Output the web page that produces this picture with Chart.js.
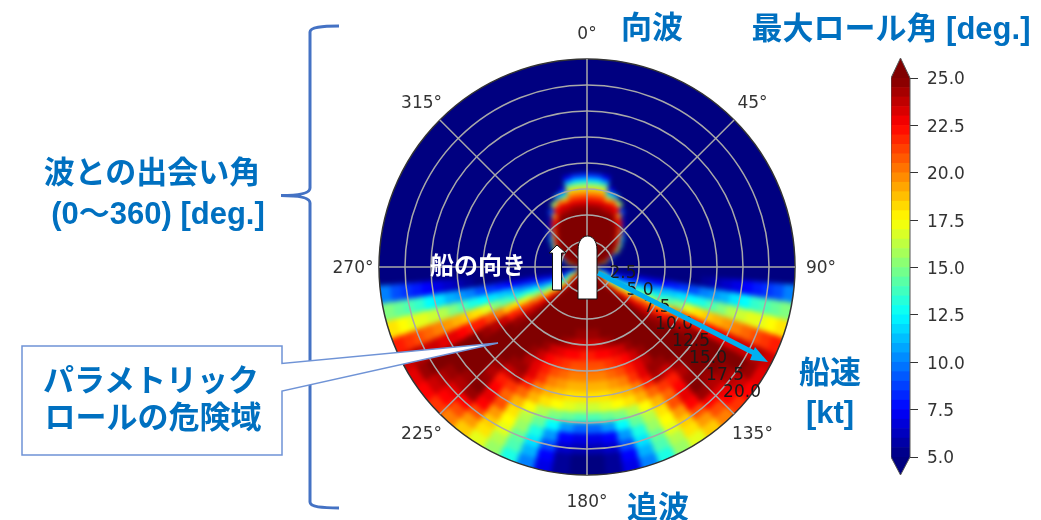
<!DOCTYPE html>
<html lang="ja">
<head>
<meta charset="UTF-8">
<title>最大ロール角</title>
<script src="https://cdn.jsdelivr.net/npm/chart.js"></script>
<style>
  html, body { margin: 0; padding: 0; background: #fff; width: 1041px; height: 520px; overflow: hidden; }
  .polarBox { position: absolute; left: 327px; top: 7px; width: 520px; height: 520px; }
  #heatBox { clip-path: circle(208px at 260px 260px); }
  #heat { filter: blur(2.5px); }
  #barBox { position: absolute; left: 891px; top: 0; width: 150px; height: 520px; }
  svg { position: absolute; left: 0; top: 0; }
  svg text { font-family: "Liberation Sans", "Noto Sans CJK JP", sans-serif; font-weight: bold; fill: #0070C0; font-size: 31px; text-anchor: middle; }
</style>
</head>
<body>
<div class="polarBox" id="heatBox"><canvas id="heat"></canvas></div>
<div class="polarBox"><canvas id="polar"></canvas></div>
<div id="barBox"><canvas id="bar"></canvas></div>
<svg width="1041" height="520" viewBox="0 0 1041 520">
  <!-- brace -->
  <path d="M339,26 C322,26 310,27 310,32 V188 C310,194 295,195.5 281,195.5 C295,195.5 310,197 310,203 V502 C310,507 322,508 339,508" fill="none" stroke="#4472C4" stroke-width="3"/>
  <!-- callout -->
  <path d="M22,346 H282 V363.5 L498,343 L282,391 V455 H22 Z" fill="#fff" stroke="#6F93D6" stroke-width="1.5"/>
  <!-- ship and heading arrow -->
  <path d="M578,299 V250 C578,240 583,236 587.5,236 C592,236 597,240 597,250 V299 Z" fill="#fff" stroke="#111" stroke-width="1"/>
  <path d="M552.5,290 V253 H549 L557,245 L566,253 H561.5 V290 Z" fill="#fff" stroke="#111" stroke-width="1"/>
  <!-- speed arrow -->
  <path d="M598,273 L756,354" stroke="#00B0F0" stroke-width="5" fill="none"/>
  <path d="M768,362 L755,347 L750,360 Z" fill="#00B0F0"/>

  <text x="652" y="38">向波</text>
  <text x="891" y="39">最大ロール角 [deg.]</text>
  <text x="658" y="518">追波</text>
  <text x="830" y="383">船速</text>
  <text x="830" y="423">[kt]</text>
  <text x="152" y="183">波との出会い角</text>
  <text x="158" y="224">(0〜360) [deg.]</text>
  <text x="151" y="391">パラメトリック</text>
  <text x="153" y="428">ロールの危険域</text>
  <text x="478" y="274" style="fill:#fff;font-size:24px">船の向き</text>
</svg>
<script>
// 5 deg sectors from the bow to the stern, rows run from the ship outwards,
// finer rows where the bow blob changes quickly
const speedEdges = [1, 2, 2.5, 3, 3.5, 4, 4.5, 5, 5.5, 6, 6.5, 7, 7.5, 8, 8.5, 9, 10, 11, 12, 13, 14, 15, 16, 17, 18, 19, 20];
const rollHalf = [
  [25,25,25,25,25,25,25,25,25,25,25,25,25,25,25,25,25,22, 8,13,18,21,24,25,25,25,25,25,25,25,25,25,25,25,25,25],
  [25,25,25,25,25,25,25,25,25,25,25,25,25,25,25,18,5,5, 5,6,8,11,14,17,20,22,24,25,25,25,25,25,25,25,25,25],
  [25,25,25,25,25,25,25,25,25,25,25,25,25,23,11,5,5,5, 5,5,6,8,11,13,15,19,22.5,25,25,25,25,25,25,25,25,25],
  [25,25,25,25,25,25,25,25,25,25,25,25,24,10,5,5,5,5, 5,5,6,8,11,13,15,19,22.5,25,25,25,25,25,25,25,25,25],
  [25,25,25,25,25,25,25,25,25,25,25,23.5,16,5,5,5,5,5, 5,5,6,8,10.5,13,16.5,20.5,24,25,25,25,25,25,25,25,25,25],
  [25,25,25,25,25,25,25,25,25,24,22,14,5,5,5,5,5,5, 5,5,6,8,10.5,13,16.5,20.5,24,25,25,25,25,25,25,25,25,25],
  [25,25,25,25,25,25,25,25,24,20,11,5,5,5,5,5,5,5, 5,5,6.5,8.5,11,14,18,22,24.5,25,25,25,25,25,25,25,25,25],
  [25,25,25,25,25,25,25,24,20.5,9,5,5,5,5,5,5,5,5, 5,5,6.5,8.5,11,14,18,22,24.5,25,25,25,25,25,25,25,25,25],
  [25,25,25,25,25,25,23,22,6,5,5,5,5,5,5,5,5,5, 5,5,7,9.5,12.5,15.5,20,23,25,25,25,25,25,25,25,25,25,25],
  [24.5,24.5,24.5,24,24,23.5,19.5,6,5,5,5,5,5,5,5,5,5,5, 5,5,7,9.5,12.5,15.5,20,23,25,25,25,25,25,25,25,25,25,25],
  [23,23,23,23,23,22.5,9,5,5,5,5,5,5,5,5,5,5,5, 5,5,7,10,13,17,21,23.5,25,25,25,25,25,25,25,25,24.5,24.5],
  [21,21,21,19,20,15.5,5,5,5,5,5,5,5,5,5,5,5,5, 5,5,7,10,13,17,21,23.5,25,25,25,25,25,25,25,25,24.5,24.5],
  [19,19,19,12,11,5,5,5,5,5,5,5,5,5,5,5,5,5, 5,5,7.5,11,13,18,21.5,24,25,25,25,25,25,25,24.5,24,23.5,23.5],
  [16,16,16,7,5,5,5,5,5,5,5,5,5,5,5,5,5,5, 5,5,7.5,11,13,18,21.5,24,25,25,25,25,25,25,24.5,24,23.5,23.5],
  [12,12,11,5,5,5,5,5,5,5,5,5,5,5,5,5,5,5, 5,5,8,11.5,14,18.5,22,24.5,25,25,25,25,24.5,23.5,23,22.5,22.5,22],
  [8.5,8.5,7,5,5,5,5,5,5,5,5,5,5,5,5,5,5,5, 5,5,8,11.5,14,18.5,22,24.5,25,25,25,25,24.5,23.5,23,22.5,22.5,22],
  [5,5,5,5,5,5,5,5,5,5,5,5,5,5,5,5,5,5, 5,5,8.5,12,15,20,23.5,25,25,25,25,24.5,23.5,22.5,22,21.5,21,21],
  [5,5,5,5,5,5,5,5,5,5,5,5,5,5,5,5,5,5, 5,5,9,12.5,17,21,24,25,25,25,25,24,23,22,21,20.5,20,20],
  [5,5,5,5,5,5,5,5,5,5,5,5,5,5,5,5,5,5, 5,5.5,10,13,18,22,24.5,25,25,25,24.5,24.5,23,21.5,20,19.5,19,19],
  [5,5,5,5,5,5,5,5,5,5,5,5,5,5,5,5,5,5, 5,6,10.5,14,18.5,22,25,25,25,24.5,23.5,24,22,20,19,18.5,18,18],
  [5,5,5,5,5,5,5,5,5,5,5,5,5,5,5,5,5,5, 5,6.5,11,15,19,22.5,25,25,25,24,22,21.5,20.5,19,18,17.5,17,16.5],
  [5,5,5,5,5,5,5,5,5,5,5,5,5,5,5,5,5,5, 5,7,12,16,19.5,23,25,25,25,24.5,22.5,20.5,19,17.5,16,15,14.5,14],
  [5,5,5,5,5,5,5,5,5,5,5,5,5,5,5,5,5,5, 5,7.5,12.5,16.5,20,23,25,25,24.5,25,23,21,18,16,14.5,12.5,10.5,9.5],
  [5,5,5,5,5,5,5,5,5,5,5,5,5,5,5,5,5,5, 5,8,13.5,17,20.5,23.5,25,24.5,24,24.5,22.5,19.5,17.5,15.5,13,10.5,7.5,7],
  [5,5,5,5,5,5,5,5,5,5,5,5,5,5,5,5,5,5, 5,8.5,14,17,21,23.5,25,24,23,22.5,21,18.5,17,14.5,12,9,6.5,6],
  [5,5,5,5,5,5,5,5,5,5,5,5,5,5,5,5,5,5, 5,9,14.5,17.5,21.5,24,24.5,23.5,22.5,21,19.5,18,16,14,11,7.5,5.5,5],
  [5,5,5,5,5,5,5,5,5,5,5,5,5,5,5,5,5,5, 5,10,15,18,22,23.5,23,22.5,21.5,20,18.5,17,15.5,13,10,7,5.5,5]
];
const angleIndex = [0, 9, 18, 27, 36, 45, 54, 63];
const angleLabels = ["0°", "45°", "90°", "135°", "180°", "225°", "270°", "315°"];
const speedTicks = ["2.5", "5.0", "7.5", "10.0", "12.5", "15.0", "17.5", "20.0"];
const colorLevels = [5,5.5,6,6.5,7,7.5,8,8.5,9,9.5,10,10.5,11,11.5,12,12.5,13,13.5,14,14.5,15,15.5,16,16.5,17,17.5,18,18.5,19,19.5,20,20.5,21,21.5,22,22.5,23,23.5,24,24.5,25];

// matplotlib jet
function jet(v) {
  const t = Math.min(1, Math.max(0, (v - 5) / 20));
  const ramp = x => Math.round(255 * Math.min(1, Math.max(0, 1.5 - Math.abs(4 * t - x))));
  return `rgb(${ramp(3)},${ramp(2)},${ramp(1)})`;
}

const sectorLabels = [];
for (let i = 0; i < 72; i++) {
  const k = angleIndex.indexOf(i);
  sectorLabels.push(k >= 0 ? angleLabels[k] : "");
}

function ringDataset(row, edge) {
  const full = row.concat(row.slice().reverse());
  const colors = full.map(jet);
  return {
    label: edge + " kt",
    data: full.map(() => edge),
    backgroundColor: colors,
    borderColor: colors,
    borderWidth: 1
  };
}

const heatDatasets = rollHalf.map((row, k) => ringDataset(row, speedEdges[k]));
// one more ring past the rim so the blur does not fade out at the edge
heatDatasets.push(ringDataset(rollHalf[rollHalf.length - 1], 21));

// heat cells on their own canvas, blurred like the shaded original
new Chart(document.getElementById("heat"), {
  type: "polarArea",
  data: { labels: sectorLabels, datasets: heatDatasets },
  options: {
    responsive: true,
    maintainAspectRatio: false,
    animation: false,
    events: [],
    layout: { padding: 41.6 },
    plugins: { legend: { display: false }, tooltip: { enabled: false } },
    scales: {
      r: {
        min: 0,
        max: 21,
        startAngle: 0,
        ticks: { display: false },
        pointLabels: { display: false, centerPointLabels: false },
        grid: { display: false },
        angleLines: { display: false }
      }
    }
  }
});

const polarLabels = {
  id: "polarLabels",
  afterDraw(chart) {
    const ctx = chart.ctx;
    const r = chart.scales.r;
    ctx.save();
    ctx.font = "17px 'DejaVu Sans'";
    ctx.textAlign = "center";
    ctx.textBaseline = "middle";
    ctx.fillStyle = "#333";
    angleIndex.forEach((idx, i) => {
      const p = r.getPointPosition(idx, 234);
      ctx.fillText(angleLabels[i], p.x, p.y + 2);
    });
    ctx.fillStyle = "#1a1a1a";
    speedTicks.forEach(t => {
      const p = r.getPointPositionForValue(27, parseFloat(t) * 0.925);
      ctx.fillText(t, p.x + 19, p.y - 10);
    });
    ctx.restore();
  }
};

// grid and labels on top, same radial scale size per kt
new Chart(document.getElementById("polar"), {
  type: "polarArea",
  data: { labels: sectorLabels, datasets: [] },
  options: {
    responsive: true,
    maintainAspectRatio: false,
    animation: false,
    events: [],
    layout: { padding: 52 },
    plugins: { legend: { display: false }, tooltip: { enabled: false } },
    scales: {
      r: {
        min: 0,
        max: 20,
        startAngle: 0,
        ticks: { display: false, stepSize: 2.5 },
        pointLabels: { display: false, centerPointLabels: false },
        grid: {
          circular: true,
          z: 1,
          color: c => c.tick.value === 20 ? "#333" : "#a8a8a8",
          lineWidth: 1.5
        },
        angleLines: {
          display: true,
          color: "#a8a8a8",
          lineWidth: c => c.index % 9 === 0 ? 1.5 : 0
        }
      }
    }
  },
  plugins: [polarLabels]
});

const barDatasets = colorLevels.slice(0, -1).map((lo, i) => ({
  label: String(lo),
  data: [[lo, colorLevels[i + 1]]],
  backgroundColor: jet((lo + colorLevels[i + 1]) / 2),
  borderWidth: 0,
  barPercentage: 1,
  categoryPercentage: 1
}));

const barEnds = {
  id: "barEnds",
  afterDatasetsDraw(chart) {
    const { ctx, chartArea: { left, right }, scales: { y } } = chart;
    const mid = (left + right) / 2;
    const top = y.getPixelForValue(25);
    const bottom = y.getPixelForValue(5);
    ctx.save();
    ctx.fillStyle = jet(25);
    ctx.beginPath();
    ctx.moveTo(left, top); ctx.lineTo(mid, top - 20); ctx.lineTo(right, top);
    ctx.closePath();
    ctx.fill();
    ctx.fillStyle = jet(5);
    ctx.beginPath();
    ctx.moveTo(left, bottom); ctx.lineTo(mid, bottom + 18); ctx.lineTo(right, bottom);
    ctx.closePath();
    ctx.fill();
    ctx.strokeStyle = "#555";
    ctx.lineWidth = 1;
    ctx.beginPath();
    ctx.moveTo(left, top); ctx.lineTo(mid, top - 20); ctx.lineTo(right, top);
    ctx.lineTo(right, bottom); ctx.lineTo(mid, bottom + 18); ctx.lineTo(left, bottom);
    ctx.closePath();
    ctx.stroke();
    ctx.restore();
  }
};

new Chart(document.getElementById("bar"), {
  type: "bar",
  data: { labels: ["roll"], datasets: barDatasets },
  options: {
    responsive: true,
    maintainAspectRatio: false,
    animation: false,
    events: [],
    layout: { padding: { top: 78, bottom: 63 } },
    plugins: { legend: { display: false }, tooltip: { enabled: false } },
    scales: {
      x: { stacked: true, display: false },
      y: {
        position: "right",
        min: 5,
        max: 25,
        afterFit: s => { s.width = 131; },
        grid: { drawOnChartArea: false, tickLength: 8, tickColor: "#333", drawTicks: true },
        border: { display: false },
        ticks: {
          stepSize: 2.5,
          padding: 9,
          labelOffset: 2,
          color: "#333",
          font: { family: "'DejaVu Sans'", size: 17 },
          callback: v => v.toFixed(1)
        }
      }
    }
  },
  plugins: [barEnds]
});
</script>
</body>
</html>
